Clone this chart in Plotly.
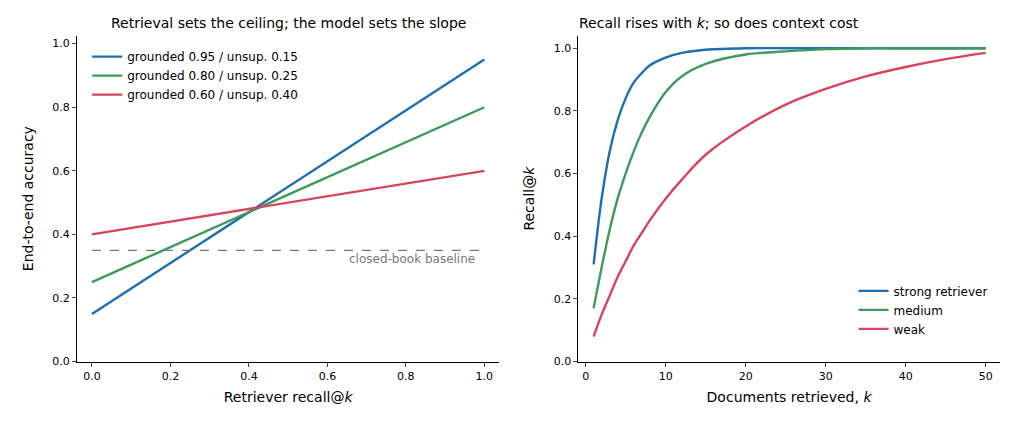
import plotly.graph_objects as go

# left panel: accuracy vs retriever recall
recall_x = [0.0, 1.0]
grounded = [0.95, 0.80, 0.60]
unsupported = [0.15, 0.25, 0.40]
left_colors = ["#1f6eb0", "#3d9a5c", "#d6455b"]
baseline = 0.35

# right panel: recall@k curves
k_vals = [1, 2, 3, 4, 5, 6, 7, 8, 10, 12, 15, 20, 25, 30, 35, 40, 45, 50]
strong = [0.31, 0.52, 0.67, 0.77, 0.84, 0.89, 0.92, 0.945, 0.97, 0.985, 0.995, 1.0, 1.0, 1.0, 1.0, 1.0, 1.0, 1.0]
medium = [0.17, 0.30, 0.42, 0.52, 0.60, 0.67, 0.73, 0.78, 0.86, 0.91, 0.95, 0.98, 0.99, 0.997, 1.0, 1.0, 1.0, 1.0]
weak = [0.08, 0.15, 0.21, 0.27, 0.32, 0.37, 0.41, 0.45, 0.52, 0.58, 0.66, 0.75, 0.82, 0.87, 0.91, 0.94, 0.965, 0.985]
right_names = ["strong retriever", "medium", "weak"]

fig = go.Figure()

for g, u, c in zip(grounded, unsupported, left_colors):
    fig.add_trace(go.Scatter(x=recall_x, y=[u, g], mode="lines", line=dict(color=c, width=2.4),
                             name=f"grounded {g:.2f} / unsup. {u:.2f}", legend="legend"))
fig.add_trace(go.Scatter(x=[0, 1], y=[baseline, baseline], mode="lines", showlegend=False,
                         line=dict(color="#777777", width=1.3, dash="dash")))

for ys, c, n in zip([strong, medium, weak], left_colors, right_names):
    fig.add_trace(go.Scatter(x=k_vals, y=ys, mode="lines", line=dict(color=c, width=2.4, shape="spline"),
                             name=n, xaxis="x2", yaxis="y2", legend="legend2"))

axis_style = dict(showline=True, linecolor="black", linewidth=1, ticks="outside", ticklen=4,
                  showgrid=False, zeroline=False, tickfont=dict(size=11))

fig.update_layout(
    width=1015, height=433, margin=dict(l=0, r=0, t=0, b=0),
    plot_bgcolor="white", paper_bgcolor="white",
    font=dict(family="DejaVu Sans", size=12, color="black"),
    xaxis=dict(domain=[0.068, 0.484], range=[-0.038, 1.038], tickvals=[0, 0.2, 0.4, 0.6, 0.8, 1.0],
               ticktext=["0.0", "0.2", "0.4", "0.6", "0.8", "1.0"],
               title=dict(text="Retriever recall@<i>k</i>", font=dict(size=14), standoff=10), **axis_style),
    yaxis=dict(domain=[0.17, 0.935], range=[0, 1.025], tickvals=[0, 0.2, 0.4, 0.6, 0.8, 1.0],
               ticktext=["0.0", "0.2", "0.4", "0.6", "0.8", "1.0"],
               title=dict(text="End-to-end accuracy", font=dict(size=14)), **axis_style),
    xaxis2=dict(domain=[0.562, 0.977], range=[-0.9, 51.75], tickvals=[0, 10, 20, 30, 40, 50], anchor="y2",
                title=dict(text="Documents retrieved, <i>k</i>", font=dict(size=14), standoff=10), **axis_style),
    yaxis2=dict(domain=[0.17, 0.935], range=[0, 1.04], tickvals=[0, 0.2, 0.4, 0.6, 0.8, 1.0],
                ticktext=["0.0", "0.2", "0.4", "0.6", "0.8", "1.0"], anchor="x2",
                title=dict(text="Recall@<i>k</i>", font=dict(size=14)), **axis_style),
    legend=dict(x=0.078, y=0.92, xanchor="left", yanchor="top", bgcolor="rgba(0,0,0,0)",
                font=dict(size=12)),
    legend2=dict(x=0.97, y=0.37, xanchor="right", yanchor="top", bgcolor="rgba(0,0,0,0)",
                 font=dict(size=12)),
    annotations=[
        dict(text="Retrieval sets the ceiling; the model sets the slope", x=0.276, y=0.965,
             xref="paper", yref="paper", showarrow=False, font=dict(size=14), xanchor="center", yanchor="middle"),
        dict(text="Recall rises with <i>k</i>; so does context cost", x=0.561, y=0.965,
             xref="paper", yref="paper", showarrow=False, font=dict(size=14), xanchor="left", yanchor="middle"),
        dict(text="closed-book baseline", x=0.98, y=baseline, xref="x", yref="y", yshift=-9,
             showarrow=False, font=dict(size=12, color="#777777"), xanchor="right", yanchor="middle"),
    ],
)

fig.write_html("out.html")
